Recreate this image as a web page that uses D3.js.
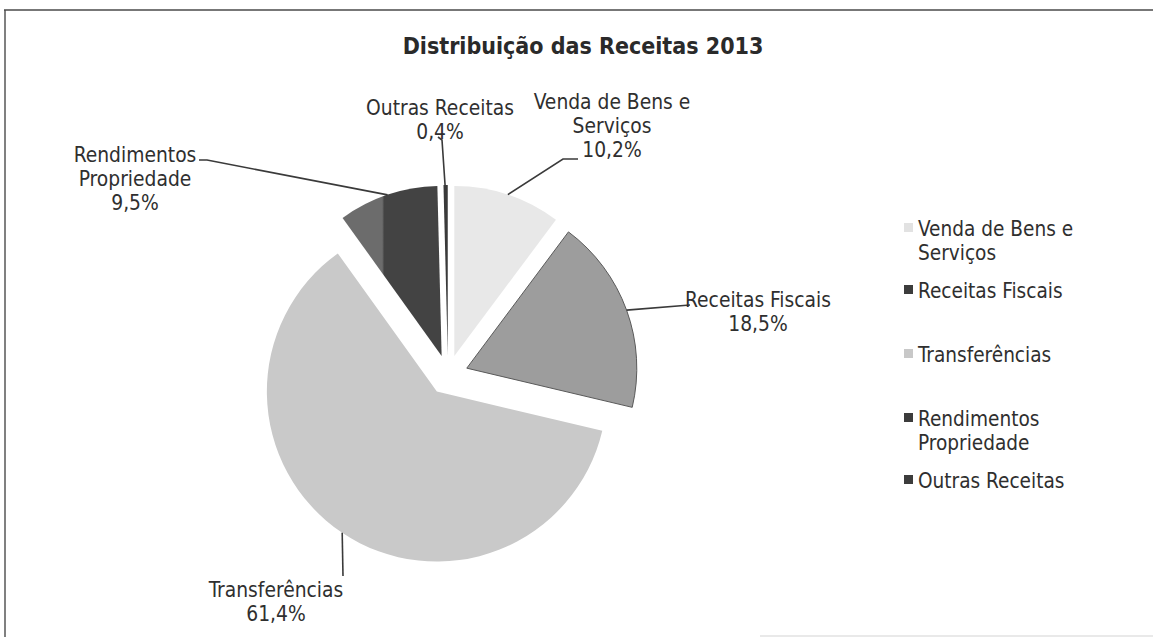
<!DOCTYPE html>
<html>
<head>
<meta charset="utf-8">
<script src="https://cdn.jsdelivr.net/npm/d3@7"></script>
<style>
  html, body { margin: 0; padding: 0; background: #fff; }
  svg { display: block; }
  text { font-family: "DejaVu Sans Condensed", "DejaVu Sans", sans-serif; fill: #2f2f2f; }
</style>
</head>
<body>
<svg id="chart" width="1153" height="637"></svg>
<script>
// Revenue shares, 2013 (percent)
const categories = ["Venda de Bens e Serviços", "Receitas Fiscais", "Transferências", "Rendimentos Propriedade", "Outras Receitas"];
const values = [10.2, 18.5, 61.4, 9.5, 0.4];
const labelLines = [["Venda de Bens e", "Serviços"], ["Receitas Fiscais"], ["Transferências"], ["Rendimentos", "Propriedade"], ["Outras Receitas"]];
const title = "Distribuição das Receitas 2013";

const svg = d3.select("#chart");
const W = 1153, H = 637;

svg.append("rect").attr("width", W).attr("height", H).attr("fill", "#fff");

// chart frame
svg.append("line").attr("x1", 4).attr("x2", W).attr("y1", 10).attr("y2", 10)
  .attr("stroke", "#4a4a4a").attr("stroke-width", 1.6);
svg.append("line").attr("x1", 5).attr("x2", 5).attr("y1", 10).attr("y2", H)
  .attr("stroke", "#4a4a4a").attr("stroke-width", 1.4);
svg.append("line").attr("x1", 760).attr("x2", W).attr("y1", 636).attr("y2", 636)
  .attr("stroke", "#e2e2e2").attr("stroke-width", 1.5);

svg.append("text").attr("x", 583).attr("y", 54).attr("text-anchor", "middle")
  .style("font-weight", "bold").style("font-size", "23px").style("fill", "#2a2a2a")
  .text(title);

// gradient for the shaded property-income slice
const defs = svg.append("defs");
const g = defs.append("linearGradient").attr("id", "rendGrad")
  .attr("x1", 0).attr("x2", 1).attr("y1", 0).attr("y2", 0);
g.append("stop").attr("offset", 0).attr("stop-color", "#6c6c6c");
g.append("stop").attr("offset", 0.4).attr("stop-color", "#6c6c6c");
g.append("stop").attr("offset", 0.42).attr("stop-color", "#434343");
g.append("stop").attr("offset", 1).attr("stop-color", "#434343");

const fills = ["#e8e8e8", "#9d9d9d", "#c9c9c9", "url(#rendGrad)", "#3a3a3a"];
const strokes = ["none", "#5a5a5a", "none", "none", "none"];
const legendFills = ["#e2e2e2", "#3c3c3c", "#c8c8c8", "#3c3c3c", "#3c3c3c"];

const cx = 448, cy = 375, R = 170, explode = 20;

const pie = d3.pie().sort(null).value(d => d);
const arcs = pie(values);
const arc = d3.arc().innerRadius(0).outerRadius(R);

const pieG = svg.append("g").attr("transform", `translate(${cx},${cy})`);

function offset(d, dist) {
  const m = (d.startAngle + d.endAngle) / 2;
  return [Math.sin(m) * dist, -Math.cos(m) * dist];
}

pieG.selectAll("path.slice").data(arcs).join("path")
  .attr("class", "slice")
  .attr("transform", d => `translate(${offset(d, explode)})`)
  .attr("d", arc)
  .attr("fill", (d, i) => fills[i])
  .attr("stroke", (d, i) => strokes[i])
  .attr("stroke-width", 1);

// data labels: anchor (centre x, first baseline) and leader bend points
const fmt = v => d3.format(".1f")(v).replace(".", ",") + "%";
const labelLayout = [
  { x: 612, y: 109, bend: [[563, 159], [578, 159]] },
  { x: 758, y: 307, bend: [[690, 305]] },
  { x: 276, y: 597, bend: [[343, 576]] },
  { x: 135, y: 162, bend: [[207, 160], [199, 160]] },
  { x: 440, y: 115, bend: [[442, 140], [438, 137]] }
];

const labG = svg.append("g");
arcs.forEach((d, i) => {
  const L = labelLayout[i];
  const [ox, oy] = offset(d, explode);
  const m = (d.startAngle + d.endAngle) / 2;
  const rStart = i === 4 ? R - 10 : R;
  const start = [cx + ox + Math.sin(m) * rStart, cy + oy - Math.cos(m) * rStart];
  const pts = [start].concat(L.bend);
  labG.append("path")
    .attr("d", d3.line()(pts))
    .attr("fill", "none").attr("stroke", "#3a3a3a").attr("stroke-width", 1.6);
  const lines = labelLines[i].concat([fmt(values[i])]);
  const t = labG.append("text").attr("text-anchor", "middle").style("font-size", "20.8px");
  lines.forEach((s, k) => {
    t.append("tspan").attr("x", L.x).attr("y", L.y + k * 24).text(s);
  });
});

// legend
const legendRows = [236, 298, 362, 426, 488];
const legG = svg.append("g");
categories.forEach((c, i) => {
  const y = legendRows[i];
  legG.append("rect").attr("x", 904).attr("y", y - 13).attr("width", 9).attr("height", 9)
    .attr("fill", legendFills[i]);
  const t = legG.append("text").attr("x", 918).attr("y", y).style("font-size", "20.6px");
  labelLines[i].forEach((s, k) => {
    t.append("tspan").attr("x", 918).attr("y", y + k * 24).text(s);
  });
});
</script>
</body>
</html>
